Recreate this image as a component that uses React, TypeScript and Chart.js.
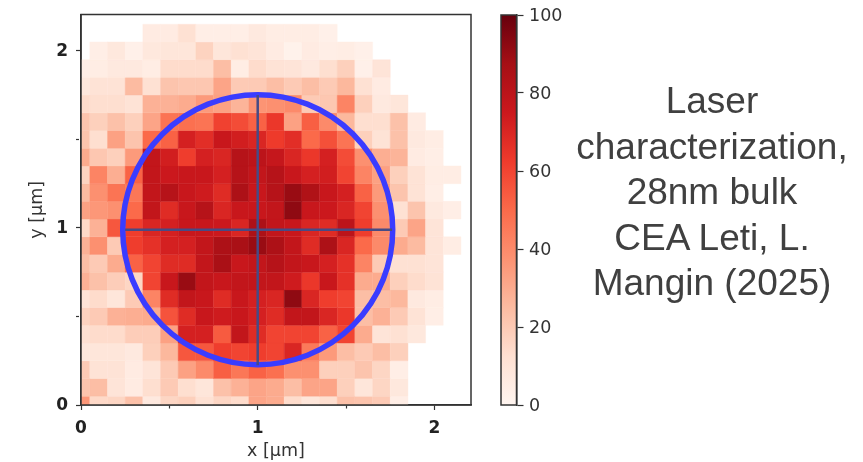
import React, { useEffect, useRef } from "react";
import { Chart, registerables } from "chart.js";

Chart.register(...registerables);

// Intensity (0-100) per row; null = no data. Index = column (x = 0.0, 0.1, ... 2.1)
const N = null;
const y21 = [N, N, N, N, 6, 6, 12, 4, 4, 4, 7, 5, 5, 5, 3, N, N, N, N, N, N, N];
const y20 = [N, 4, 8, 3, 8, 9, 9, 17, 9, 12, 10, 6, 2, 6, 4, 5, 3, N, N, N, N, N];
const y19 = [4, 5, 7, 7, 5, 14, 14, 14, 24, 5, 14, 11, 10, 7, 13, 18, 3, 10, N, N, N, N];
const y18 = [8, 11, 11, 25, 12, 22, 21, 21, 32, 20, 20, 24, 20, 24, 20, 26, 12, 6, N, N, N, N];
const y17 = [14, 13, 13, 11, 28, 28, 30, 35, 33, 27, 37, 38, 40, 20, 21, 42, 18, 7, 9, N, N, N];
const y16 = [22, 18, 23, 18, 32, 47, 48, 47, 61, 58, 52, 64, 33, 53, 40, 26, 13, 13, 23, 6, N, N];
const y15 = [22, 13, 33, 22, 50, 52, 72, 67, 76, 73, 70, 63, 67, 50, 57, 47, 18, 11, 23, 7, 5, N];
const y14 = [30, 21, 18, 35, 78, 73, 62, 72, 70, 82, 80, 77, 70, 64, 72, 58, 38, 29, 27, 6, 4, N];
const y13 = [17, 42, 29, 52, 78, 75, 76, 76, 72, 82, 78, 82, 76, 72, 73, 60, 42, 33, 18, 11, 5, 5];
const y12 = [25, 38, 47, 46, 78, 82, 76, 74, 68, 85, 76, 82, 90, 84, 76, 72, 52, 35, 22, 11, 4, N];
const y11 = [33, 36, 38, 50, 78, 68, 76, 82, 70, 76, 76, 78, 92, 76, 75, 70, 60, 38, 12, 22, 7, 4];
const y10 = [15, 28, 55, 62, 70, 72, 76, 76, 75, 70, 85, 78, 76, 70, 68, 80, 62, 40, 20, 32, 10, N];
const y09 = [28, 38, 20, 62, 66, 72, 72, 78, 85, 86, 90, 85, 78, 68, 85, 70, 50, 40, 30, 25, 10, 5];
const y08 = [24, 20, 30, 52, 60, 68, 68, 78, 86, 76, 78, 82, 78, 76, 72, 66, 42, 20, 12, 12, 10, N];
const y07 = [28, 23, 19, 16, 60, 76, 90, 78, 76, 78, 78, 78, 74, 64, 76, 66, 30, 30, 18, 14, 11, N];
const y06 = [10, 14, 9, 20, 42, 68, 78, 76, 68, 76, 72, 70, 92, 70, 62, 60, 24, 24, 26, 7, 5, N];
const y05 = [17, 20, 28, 29, 30, 56, 68, 76, 74, 76, 72, 68, 78, 78, 70, 64, 24, 28, 20, 11, 4, N];
const y04 = [12, 14, 14, 19, 19, 33, 72, 72, 54, 78, 68, 60, 60, 60, 52, 60, 30, 10, 12, 8, N, N];
const y03 = [8, 9, 9, 7, 18, 26, 55, 55, 62, 60, 62, 60, 70, 45, 35, 24, 20, 24, 18, N, N, N];
const y02 = [20, 11, 11, 6, 10, 20, 33, 40, 53, 46, 52, 48, 38, 38, 18, 18, 22, 16, 4, N, N, N];
const y01 = [22, 24, 10, 6, 13, 20, 13, 9, 23, 28, 32, 30, 24, 32, 32, 18, 9, 16, 8, N, N, N];
const y00 = [36, 15, 16, 23, 7, 16, 18, 12, 16, 14, 32, 30, 14, 9, 13, 23, 22, 20, 4, N, N, N];

const rows = [y00, y01, y02, y03, y04, y05, y06, y07, y08, y09, y10, y11, y12, y13, y14, y15, y16, y17, y18, y19, y20, y21];

const circleCentre = [{ x: 1.0, y: 0.99 }];
const crossH = [{ x: 0.25, y: 0.99 }, { x: 1.76, y: 0.99 }];
const crossV = [{ x: 1.0, y: 0.225 }, { x: 1.0, y: 1.75 }];
const titleLines = ["Laser", "characterization,", "28nm bulk", "CEA Leti, L.", "Mangin (2025)"];
const REDS = ["#fff5f0", "#fee0d2", "#fcbba1", "#fc9272", "#fb6a4a", "#ef3b2c", "#cb181d", "#a50f15", "#67000d"];

const hex = (s: string) => [1, 3, 5].map((i) => parseInt(s.slice(i, i + 2), 16));
function reds(v: number) {
  const t = (Math.max(0, Math.min(100, v)) / 100) * (REDS.length - 1);
  const i = Math.min(Math.floor(t), REDS.length - 2);
  const f = t - i;
  const a = hex(REDS[i]);
  const b = hex(REDS[i + 1]);
  const c = a.map((p, k) => Math.round(p + (b[k] - p) * f));
  return `rgb(${c[0]},${c[1]},${c[2]})`;
}

const cells = rows.flatMap((row, j) =>
  row.flatMap((v, i) => (v === null ? [] : [{ x: i / 10, y: j / 10, v }]))
);

const FRAME = "#333333";
const frame = {
  id: "frame",
  afterDraw(chart: any) {
    const { left, top, width, height } = chart.chartArea;
    const c = chart.ctx;
    c.save();
    c.strokeStyle = FRAME;
    c.lineWidth = 1.5;
    c.strokeRect(left, top, width, height);
    c.restore();
  },
};

const TEXT = "#333333";
const tickFont = { family: "'DejaVu Sans'", size: 17, weight: "bold" as const };
const titleFont = { family: "'DejaVu Sans'", size: 17.5 };
const noPad = (s: any) => {
  s.paddingTop = 0;
  s.paddingBottom = 0;
  s.paddingLeft = 0;
  s.paddingRight = 0;
};
const minorDash = (ctx: any) => (Number.isInteger(ctx.tick?.value) ? [] : [3, 10]);

export default function App() {
  const mainRef = useRef<HTMLCanvasElement>(null);
  const barRef = useRef<HTMLCanvasElement>(null);

  useEffect(() => {
    const labelInt = (v: any) => (Number.isInteger(v) ? String(v) : "");
    const main = new Chart(mainRef.current!, {
      type: "scatter",
      data: {
        datasets: [
          {
            label: "circle",
            data: circleCentre,
            pointStyle: "circle",
            pointRadius: 135,
            backgroundColor: "rgba(0,0,0,0)",
            borderColor: "#3a3cff",
            borderWidth: 5.5,
            order: 1,
          } as any,
          {
            label: "h",
            data: crossH,
            showLine: true,
            pointRadius: 0,
            borderColor: "#474b85",
            borderWidth: 2.5,
            order: 0,
          },
          {
            label: "v",
            data: crossV,
            showLine: true,
            pointRadius: 0,
            borderColor: "#474b85",
            borderWidth: 2.5,
            order: 0,
          },
          {
            label: "cells",
            data: cells,
            pointStyle: "rect",
            pointRadius: 12.52,
            borderWidth: 0.4,
            backgroundColor: (ctx: any) => reds(ctx.raw?.v ?? 0),
            borderColor: (ctx: any) => reds(ctx.raw?.v ?? 0),
            order: 2,
          } as any,
        ],
      },
      options: {
        responsive: false,
        maintainAspectRatio: false,
        animation: false,
        events: [],
        layout: { autoPadding: false, padding: { top: 14.5, right: 19, left: 0, bottom: 0 } },
        plugins: { legend: { display: false }, tooltip: { enabled: false } },
        scales: {
          x: {
            type: "linear",
            min: 0,
            max: 2.207,
            afterFit: (s: any) => { s.height = 57; noPad(s); },
            afterBuildTicks: (s: any) => { s.ticks = [0, 0.5, 1, 1.5, 2].map((value) => ({ value })); },
            grid: { drawOnChartArea: false, tickLength: 5, tickColor: FRAME, tickWidth: 1.2, tickBorderDash: minorDash },
            border: { color: FRAME, width: 1.5 },
            ticks: { autoSkip: false, maxRotation: 0, font: tickFont, color: "#222", padding: 8, callback: labelInt },
            title: { display: true, text: "x [µm]", font: titleFont, color: TEXT, padding: { top: 0, bottom: 0 } },
          },
          y: {
            type: "linear",
            min: 0,
            max: 2.205,
            afterFit: (s: any) => { s.width = 81; noPad(s); },
            afterBuildTicks: (s: any) => { s.ticks = [0, 0.5, 1, 1.5, 2].map((value) => ({ value })); },
            grid: { drawOnChartArea: false, tickLength: 5, tickColor: FRAME, tickWidth: 1.2, tickBorderDash: minorDash },
            border: { color: FRAME, width: 1.5 },
            ticks: { autoSkip: false, font: tickFont, color: "#222", padding: 8, labelOffset: 1, callback: labelInt },
            title: { display: true, text: "y [µm]", font: titleFont, color: TEXT, padding: { top: 27, bottom: 0 } },
          },
        },
      },
      plugins: [frame],
    } as any);

    const bar = new Chart(barRef.current!, {
      type: "bar",
      data: {
        labels: ["intensity"],
        datasets: [
          {
            data: [[0, 100]],
            barPercentage: 1,
            categoryPercentage: 1,
            backgroundColor: (ctx: any) => {
              const area = ctx.chart.chartArea;
              if (!area || !Number.isFinite(area.top) || !Number.isFinite(area.bottom)) return REDS[4];
              const g = ctx.chart.ctx.createLinearGradient(0, area.bottom, 0, area.top);
              REDS.forEach((col, i) => g.addColorStop(i / (REDS.length - 1), col));
              return g;
            },
          } as any,
        ],
      },
      options: {
        responsive: false,
        maintainAspectRatio: false,
        animation: false,
        events: [],
        layout: { padding: { top: 15, bottom: 57, left: 11, right: 0 } },
        plugins: { legend: { display: false }, tooltip: { enabled: false } },
        scales: {
          x: { display: false },
          y: {
            position: "right",
            min: 0,
            max: 100,
            afterFit: (s: any) => { s.width = 93.5; noPad(s); },
            grid: { drawOnChartArea: false, tickLength: 7, tickColor: FRAME, tickWidth: 1.2 },
            border: { color: FRAME, width: 1.5 },
            ticks: { stepSize: 20, padding: 5.5, labelOffset: 1, color: TEXT, font: { family: "'DejaVu Sans'", size: 17.5 } },
          },
        },
      },
      plugins: [frame],
    } as any);

    return () => {
      main.destroy();
      bar.destroy();
    };
  }, []);

  return (
    <div style={{ position: "absolute", left: 0, top: 0, width: 863, height: 462, overflow: "hidden", background: "#fff" }}>
      <canvas ref={mainRef} width={490} height={462} style={{ position: "absolute", left: 0, top: 0, filter: "blur(0.45px)" }} />
      <canvas ref={barRef} width={120} height={462} style={{ position: "absolute", left: 490, top: 0, filter: "blur(0.45px)" }} />
      <div
        style={{
          position: "absolute",
          left: 562,
          width: 300,
          top: 78,
          textAlign: "center",
          fontFamily: "'Liberation Sans'",
          fontSize: 37,
          lineHeight: "45.5px",
          color: "#404040",
          whiteSpace: "nowrap",
        }}
      >
        {titleLines.map((t) => (
          <div key={t}>{t}</div>
        ))}
      </div>
    </div>
  );
}
